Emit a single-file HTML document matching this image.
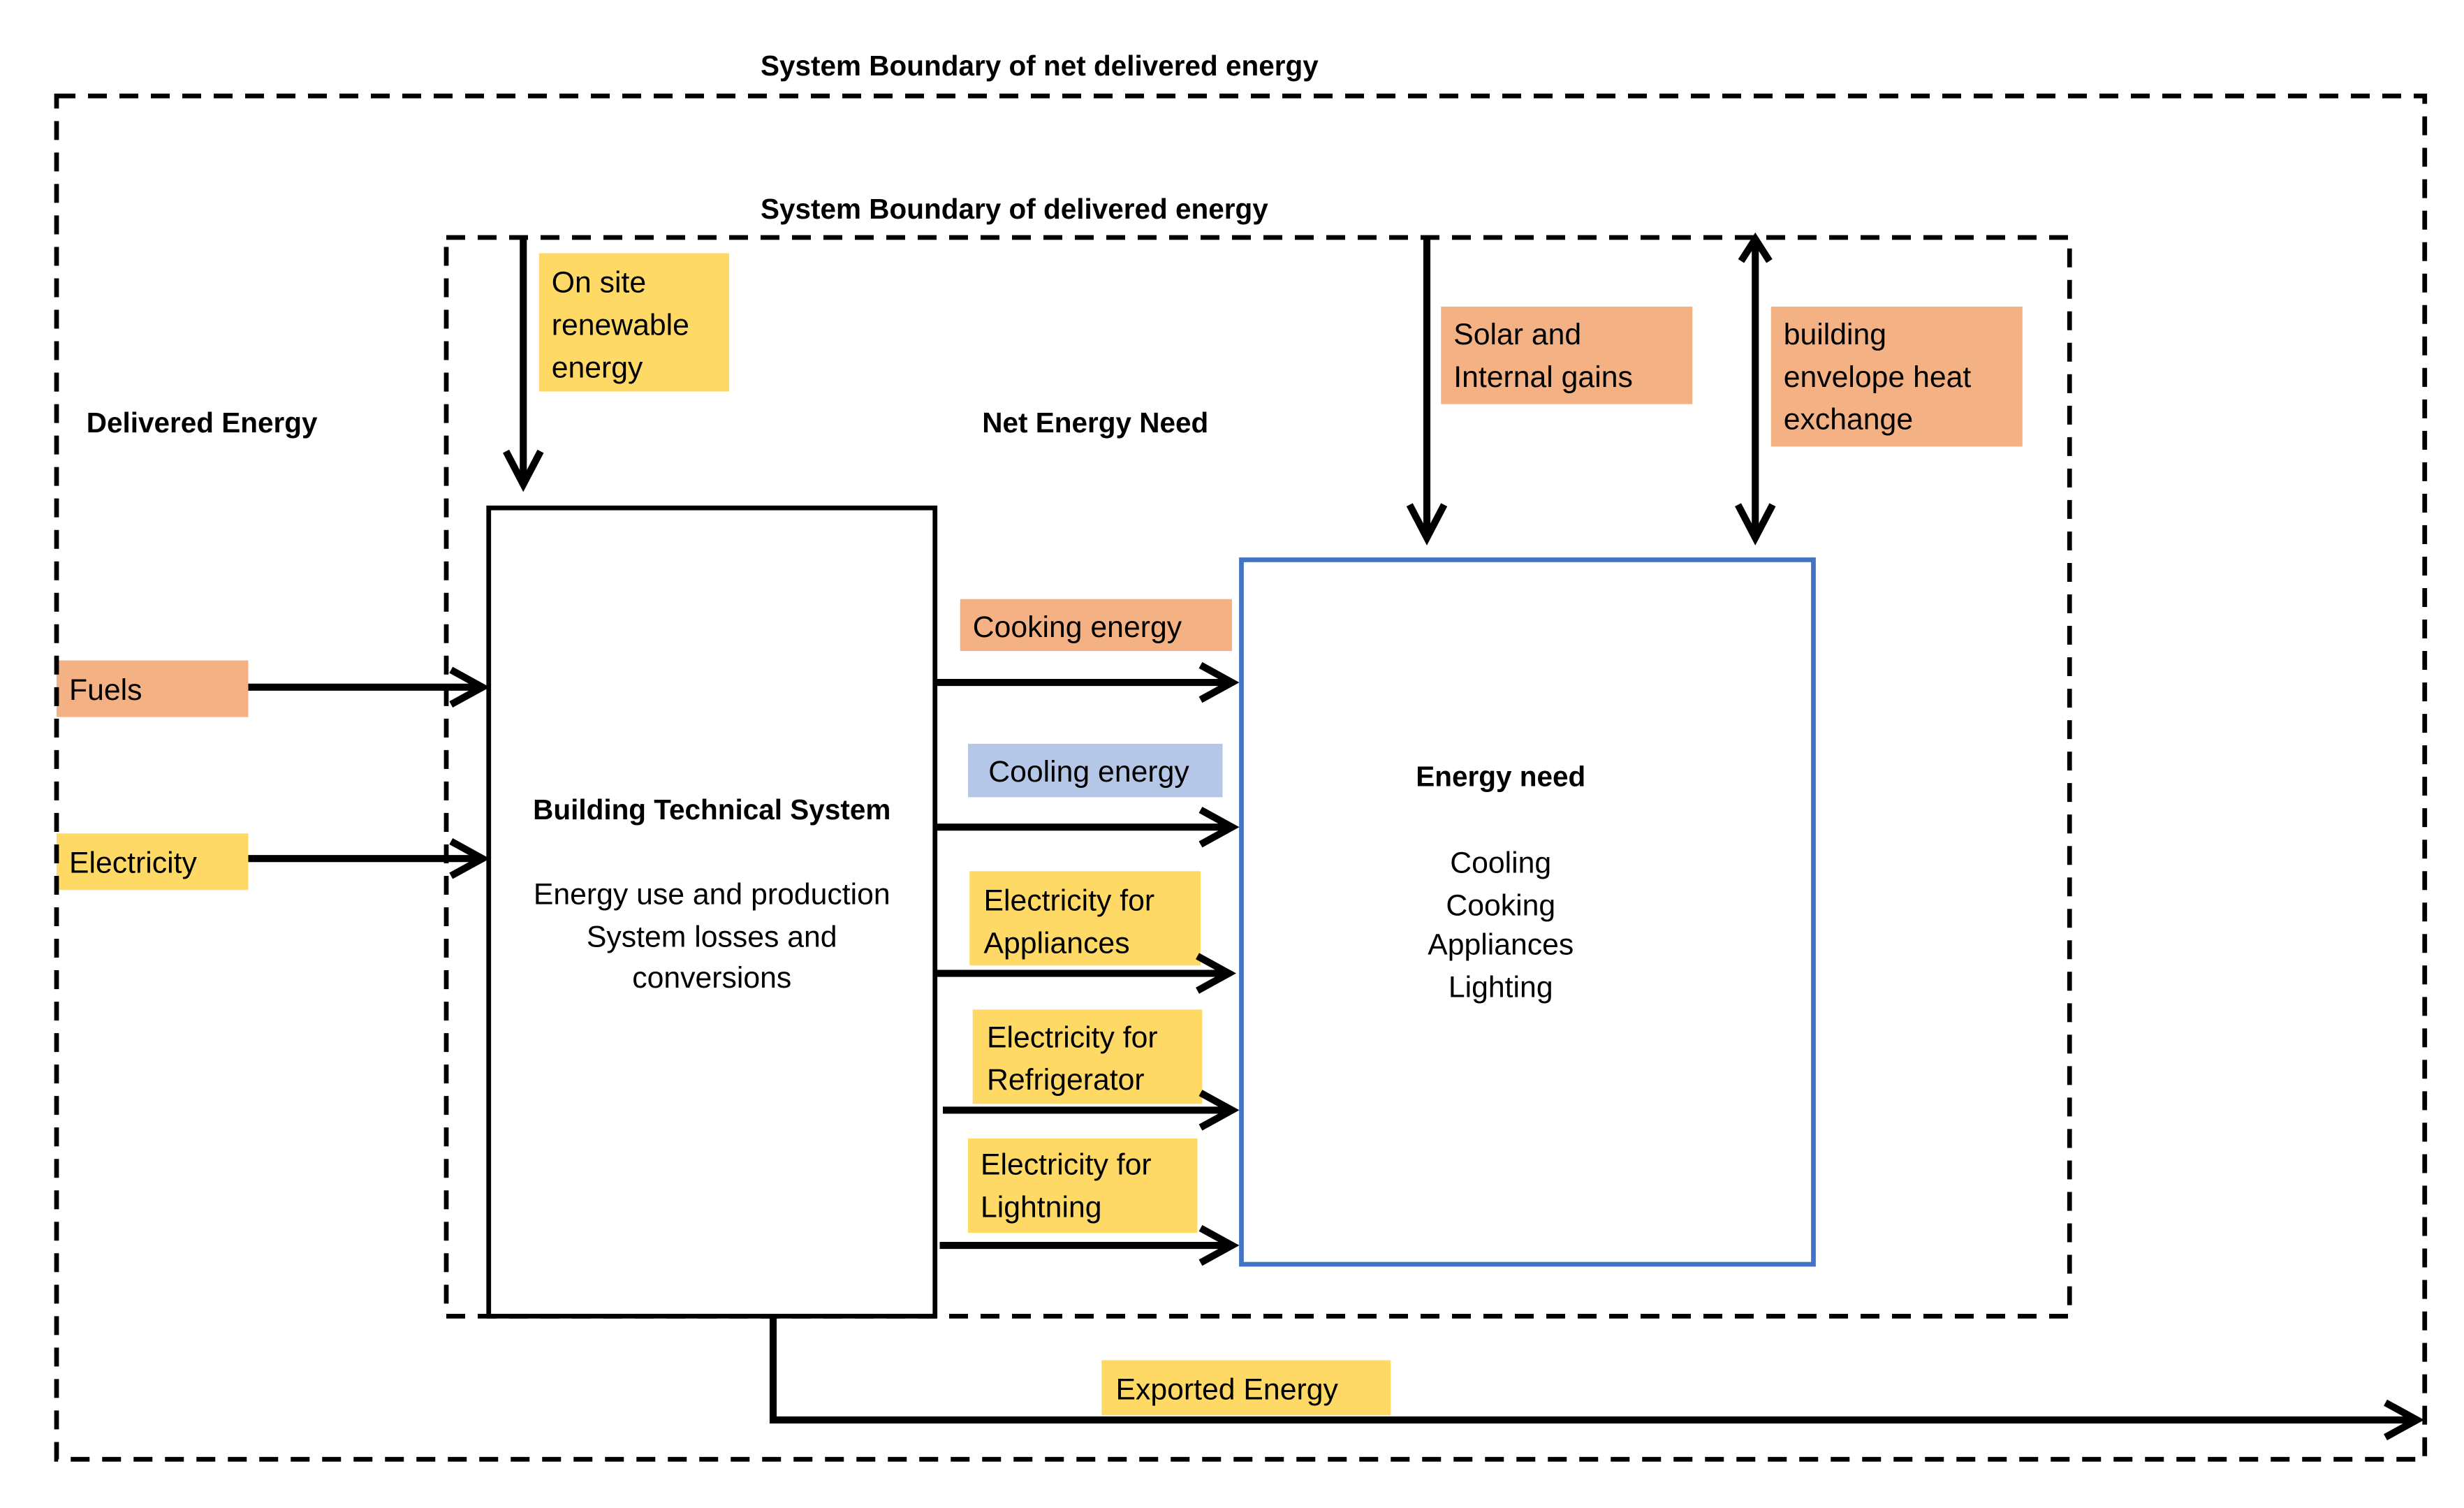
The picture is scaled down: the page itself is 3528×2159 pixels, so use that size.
<!DOCTYPE html>
<html><head><meta charset="utf-8"><style>html,body{margin:0;padding:0;background:#fff}svg{display:block}</style></head><body>
<svg width="3528" height="2159" viewBox="0 0 1568 959" preserveAspectRatio="none" xmlns="http://www.w3.org/2000/svg" font-family="Liberation Sans, sans-serif" font-size="19">
<rect x="0" y="0" width="1568" height="959" fill="#fff"/>
<!-- label backgrounds -->
<g>
<rect x="343" y="161" width="121" height="88" fill="#FFD966"/>
<rect x="917" y="195" width="160" height="62" fill="#F4B183"/>
<rect x="1127" y="195" width="160" height="89" fill="#F4B183"/>
<rect x="36" y="420" width="122" height="36" fill="#F4B183"/>
<rect x="36" y="530" width="122" height="36" fill="#FFD966"/>
<rect x="611" y="381" width="173" height="33" fill="#F4B183"/>
<rect x="616" y="473" width="162" height="34" fill="#B4C7E7"/>
<rect x="617" y="554" width="147" height="60" fill="#FFD966"/>
<rect x="619" y="642" width="146" height="60" fill="#FFD966"/>
<rect x="616" y="724" width="146" height="60" fill="#FFD966"/>
<rect x="701" y="865" width="184" height="35" fill="#FFD966"/>
</g>
<!-- boundaries -->
<rect x="36" y="61" width="1507" height="867" fill="none" stroke="#000" stroke-width="3" stroke-dasharray="12 8"/>
<rect x="284" y="151" width="1033" height="686" fill="none" stroke="#000" stroke-width="3" stroke-dasharray="12 8"/>
<rect x="311" y="323" width="284" height="514" fill="none" stroke="#000" stroke-width="3"/>
<rect x="790" y="356" width="364" height="448" fill="none" stroke="#4472C4" stroke-width="3"/>
<!-- arrows -->
<g stroke="#000" stroke-width="4.5" fill="none" stroke-linejoin="miter">
<line x1="333" y1="151" x2="333" y2="308"/><polyline points="322,287 333,308 344,287"/>
<line x1="908" y1="151" x2="908" y2="342"/><polyline points="897,321 908,342 919,321"/>
<line x1="1117" y1="155" x2="1117" y2="342"/><polyline points="1106,321 1117,342 1128,321"/><polyline points="1108,166 1117,152 1126,166"/>
<line x1="158" y1="437" x2="307" y2="437"/><polyline points="287,426 307,437 287,448"/>
<line x1="158" y1="546" x2="307" y2="546"/><polyline points="287,535 307,546 287,557"/>
<line x1="595" y1="434" x2="784" y2="434"/><polyline points="764,423 784,434 764,445"/>
<line x1="595" y1="526" x2="784" y2="526"/><polyline points="764,515 784,526 764,537"/>
<line x1="595" y1="619" x2="782" y2="619"/><polyline points="762,608 782,619 762,630"/>
<line x1="600" y1="706" x2="784" y2="706"/><polyline points="764,695 784,706 764,717"/>
<line x1="598" y1="792" x2="784" y2="792"/><polyline points="764,781 784,792 764,803"/>
<polyline points="492,837 492,903 1538,903"/><polyline points="1518,892 1538,903 1518,914"/>
</g>
<!-- text -->
<g fill="#000">
<text x="484" y="48" font-weight="bold" font-size="18">System Boundary of net delivered energy</text>
<text x="484" y="139" font-weight="bold" font-size="18">System Boundary of delivered energy</text>
<text x="55" y="275" font-weight="bold" font-size="18">Delivered Energy</text>
<text x="625" y="275" font-weight="bold" font-size="18">Net Energy Need</text>
<text x="351" y="186">On site</text><text x="351" y="213">renewable</text><text x="351" y="240">energy</text>
<text x="925" y="219">Solar and</text><text x="925" y="246">Internal gains</text>
<text x="1135" y="219">building</text><text x="1135" y="246">envelope heat</text><text x="1135" y="273">exchange</text>
<text x="44" y="445">Fuels</text>
<text x="44" y="555">Electricity</text>
<text x="619" y="405">Cooking energy</text>
<text x="629" y="497">Cooling energy</text>
<text x="626" y="579">Electricity for</text><text x="626" y="606">Appliances</text>
<text x="628" y="666">Electricity for</text><text x="628" y="693">Refrigerator</text>
<text x="624" y="747">Electricity for</text><text x="624" y="774">Lightning</text>
<text x="710" y="890">Exported Energy</text>
<g text-anchor="middle">
<text x="453" y="521" font-weight="bold" font-size="18">Building Technical System</text>
<text x="453" y="575">Energy use and production</text>
<text x="453" y="602">System losses and</text>
<text x="453" y="628">conversions</text>
<text x="955" y="500" font-weight="bold" font-size="18">Energy need</text>
<text x="955" y="555">Cooling</text>
<text x="955" y="582">Cooking</text>
<text x="955" y="607">Appliances</text>
<text x="955" y="634">Lighting</text>
</g>
</g>
</svg>
</body></html>
